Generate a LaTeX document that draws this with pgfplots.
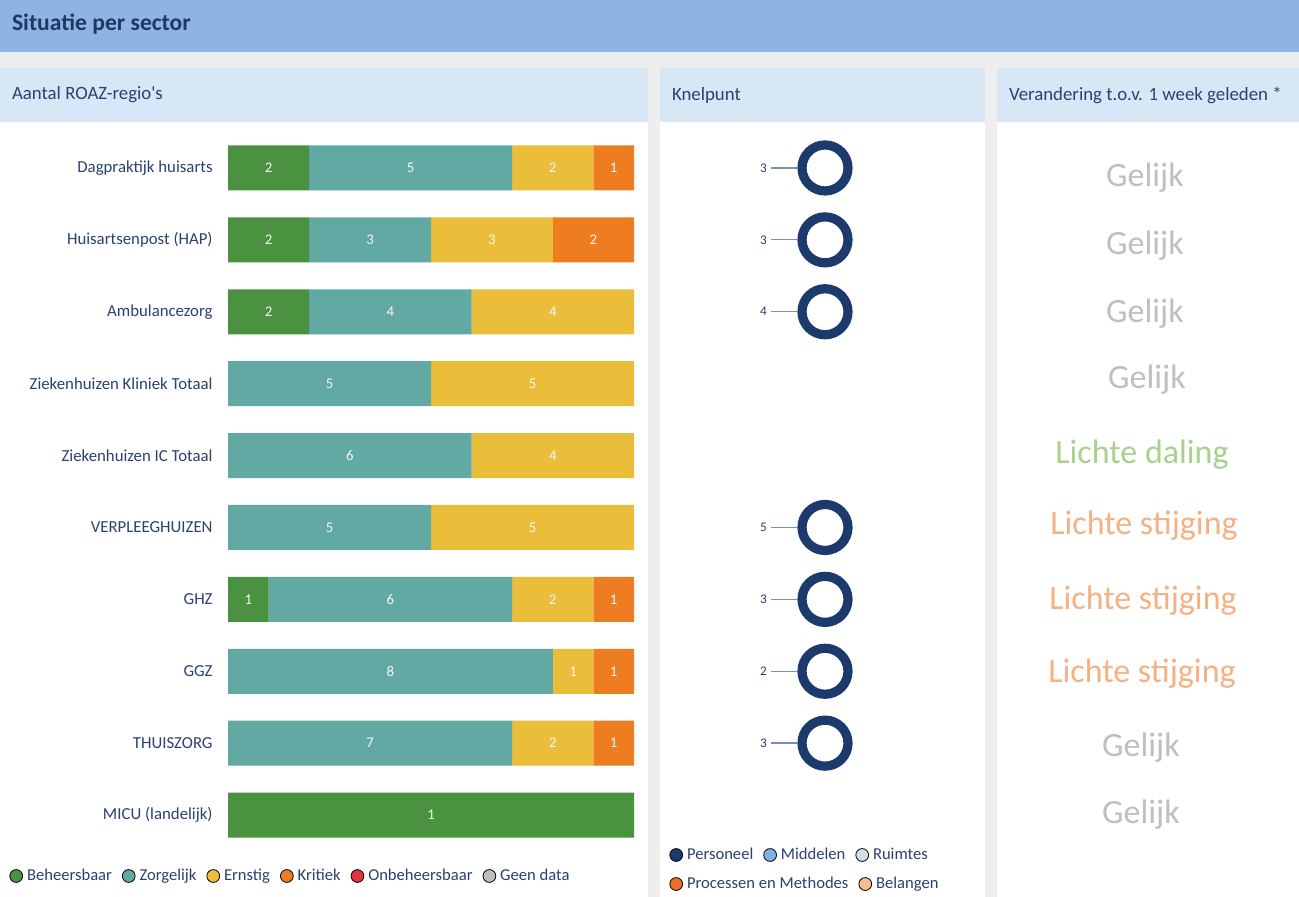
\documentclass[border=0pt]{standalone}
\usepackage{pgfplots}
\pgfplotsset{compat=1.18}
\usepackage{pgfplotstable}
\usepackage{fontspec}
\setmainfont{Carlito}
\definecolor{cHead}{HTML}{8DB4E2}
\definecolor{cSub}{HTML}{D8E7F5}
\definecolor{cBg}{HTML}{EEEEEE}
\definecolor{cNavy}{HTML}{1F3864}
\definecolor{cTxt}{HTML}{2B4170}
\definecolor{cG}{HTML}{4A9140}
\definecolor{cT}{HTML}{62A8A3}
\definecolor{cY}{HTML}{EABD3B}
\definecolor{cO}{HTML}{EE7D22}
\definecolor{cR}{HTML}{E0343F}
\definecolor{cGr}{HTML}{BDBDBD}
\definecolor{cDon}{HTML}{1C3A6C}
\definecolor{cLine}{HTML}{7A8EB4}
\definecolor{cMid}{HTML}{7FB3E3}
\definecolor{cRuim}{HTML}{D5DEE7}
\definecolor{cProc}{HTML}{EE7026}
\definecolor{cBel}{HTML}{F7BC93}
\definecolor{cGelijk}{HTML}{BFBFBF}
\definecolor{cDaling}{HTML}{A8D18D}
\definecolor{cStijg}{HTML}{F4B183}

% r = row, p = share of the bar (%), n = number of ROAZ regions
\pgfplotstableread{
r p n
1 20 2
2 20 2
3 20 2
4 0 0
5 0 0
6 0 0
7 10 1
8 0 0
9 0 0
10 100 1
}\beheersbaar
\pgfplotstableread{
r p n
1 50 5
2 30 3
3 40 4
4 50 5
5 60 6
6 50 5
7 60 6
8 80 8
9 70 7
10 0 0
}\zorgelijk
\pgfplotstableread{
r p n
1 20 2
2 30 3
3 40 4
4 50 5
5 40 4
6 50 5
7 20 2
8 10 1
9 20 2
10 0 0
}\ernstig
\pgfplotstableread{
r p n
1 10 1
2 20 2
3 0 0
4 0 0
5 0 0
6 0 0
7 10 1
8 10 1
9 10 1
10 0 0
}\kritiek
% Knelpunt: row, count (Personeel)
\pgfplotstableread{
x r c
0 1 3
0 2 3
0 3 4
0 6 5
0 7 3
0 8 2
0 9 3
}\knelpunt

\begin{document}
\begin{tikzpicture}
\begin{scope}[x=0.5pt,y=-0.5pt]
  \fill[cBg] (0,0) rectangle (1299,897);
  \fill[cHead] (0,0) rectangle (1299,52);
  \node[anchor=west, text=cNavy, font=\fontsize{11.8}{14}\selectfont\bfseries] at (5,24) {Situatie per sector};
  % panels
  \fill[white] (0,122) rectangle (648,897);
  \fill[white] (660,122) rectangle (985,897);
  \fill[white] (997,122) rectangle (1299,897);
  \fill[cSub] (0,68) rectangle (648,122);
  \fill[cSub] (660,68) rectangle (985,122);
  \fill[cSub] (997,68) rectangle (1299,122);
  \node[anchor=west, text=cTxt, font=\fontsize{9.4}{11}\selectfont] at (5,95) {Aantal ROAZ-regio\textquotesingle s};
  \node[anchor=west, text=cTxt, font=\fontsize{9.4}{11}\selectfont] at (665,95) {Knelpunt};
  \node[anchor=west, text=cTxt, font=\fontsize{9.4}{11}\selectfont] at (1002,95) {Verandering t.o.v. 1 week geleden *};
  % change texts
  \begin{scope}[every node/.style={font=\fontsize{17}{20}\selectfont, anchor=center}]
    \node[text=cGelijk] at (1145,178) {Gelijk};
    \node[text=cGelijk] at (1145,246) {Gelijk};
    \node[text=cGelijk] at (1145,314) {Gelijk};
    \node[text=cGelijk] at (1147,380) {Gelijk};
    \node[text=cDaling] at (1142,455) {Lichte daling};
    \node[text=cStijg] at (1144,526) {Lichte stijging};
    \node[text=cStijg] at (1143,601) {Lichte stijging};
    \node[text=cStijg] at (1142,674) {Lichte stijging};
    \node[text=cGelijk] at (1141,748) {Gelijk};
    \node[text=cGelijk] at (1141,815) {Gelijk};
  \end{scope}
\end{scope}

% ---- stacked bars ----
\begin{axis}[
  at={(114pt,-425.5pt)}, anchor=south west,
  scale only axis, width=203pt, height=359.5pt,
  xmin=0, xmax=100, ymin=0.5, ymax=10.5, y dir=reverse,
  xbar stacked, bar width=22.5pt,
  axis line style={draw=none}, xtick=\empty,
  ytick={1,...,10},
  yticklabels={Dagpraktijk huisarts, Huisartsenpost (HAP), Ambulancezorg, Ziekenhuizen Kliniek Totaal, Ziekenhuizen IC Totaal, VERPLEEGHUIZEN, GHZ, GGZ, THUISZORG, MICU (landelijk)},
  major tick length=0pt,
  yticklabel style={font=\fontsize{8.4}{10}\selectfont, text=cTxt, inner sep=0pt, xshift=-7.5pt},
  point meta=explicit symbolic,
  nodes near coords={\ifnum\pgfplotspointmeta>0 \pgfplotspointmeta\fi},
  every node near coord/.append style={anchor=center, font=\fontsize{7.4}{8}\selectfont, text=white!94!gray},
  clip=false,
]
\addplot[fill=cG, draw=none] table[x=p,y=r,meta=n]{\beheersbaar};
\addplot[fill=cT, draw=none] table[x=p,y=r,meta=n]{\zorgelijk};
\addplot[fill=cY, draw=none] table[x=p,y=r,meta=n]{\ernstig};
\addplot[fill=cO, draw=none] table[x=p,y=r,meta=n]{\kritiek};
\end{axis}

% ---- knelpunt donuts ----
\begin{axis}[
  at={(387.5pt,-425.5pt)}, anchor=south west,
  scale only axis, width=50pt, height=359.5pt,
  xmin=-1, xmax=1, ymin=0.5, ymax=10.5, y dir=reverse,
  hide axis, clip=false,
]
\addplot[only marks, mark=o, mark size=11.5pt, mark options={line width=4.6pt, draw=cDon},
  point meta=explicit symbolic,
  nodes near coords={\pgfplotspointmeta\hspace{2pt}\textcolor{cLine}{\rule[1.8pt]{13pt}{0.7pt}}},
  every node near coord/.append style={anchor=east, inner sep=0pt, xshift=-11.8pt, font=\fontsize{6.6}{7}\selectfont, text=cTxt}]
  table[x=x,y=r,meta=c]{\knelpunt};
\end{axis}

% ---- legends ----
\begin{axis}[
  at={(4.5pt,-438pt)}, anchor=west, scale only axis, width=1pt, height=1pt,
  xmin=0, xmax=1, ymin=0, ymax=1, hide axis,
  legend style={at={(0,0.5)}, anchor=west, draw=none, fill=none, inner sep=0pt,
    font=\fontsize{8.3}{10}\selectfont, text=cTxt, legend columns=-1,
    /tikz/every even column/.append style={column sep=3pt}},
  legend image code/.code={\fill (3.2pt,0pt) circle (3.2pt);},
]
\addlegendimage{fill=cG}\addlegendentry{Beheersbaar}
\addlegendimage{fill=cT}\addlegendentry{Zorgelijk}
\addlegendimage{fill=cY}\addlegendentry{Ernstig}
\addlegendimage{fill=cO}\addlegendentry{Kritiek}
\addlegendimage{fill=cR}\addlegendentry{Onbeheersbaar}
\addlegendimage{fill=cGr}\addlegendentry{Geen data}
\end{axis}

\begin{axis}[
  at={(334.5pt,-427.5pt)}, anchor=west, scale only axis, width=1pt, height=1pt,
  xmin=0, xmax=1, ymin=0, ymax=1, hide axis,
  legend style={at={(0,0.5)}, anchor=west, draw=none, fill=none, inner sep=0pt,
    font=\fontsize{8.3}{10}\selectfont, text=cTxt, legend columns=-1,
    /tikz/every even column/.append style={column sep=3pt}},
  legend image code/.code={\fill (3.2pt,0pt) circle (3.2pt);},
]
\addlegendimage{fill=cDon}\addlegendentry{Personeel}
\addlegendimage{fill=cMid}\addlegendentry{Middelen}
\addlegendimage{fill=cRuim}\addlegendentry{Ruimtes}
\end{axis}

\begin{axis}[
  at={(334.5pt,-442pt)}, anchor=west, scale only axis, width=1pt, height=1pt,
  xmin=0, xmax=1, ymin=0, ymax=1, hide axis,
  legend style={at={(0,0.5)}, anchor=west, draw=none, fill=none, inner sep=0pt,
    font=\fontsize{8.3}{10}\selectfont, text=cTxt, legend columns=-1,
    /tikz/every even column/.append style={column sep=3pt}},
  legend image code/.code={\fill (3.2pt,0pt) circle (3.2pt);},
]
\addlegendimage{fill=cProc}\addlegendentry{Processen en Methodes}
\addlegendimage{fill=cBel}\addlegendentry{Belangen}
\end{axis}

\pgfresetboundingbox
\useasboundingbox (0,0) rectangle (649.5pt,-448.5pt);
\end{tikzpicture}
\end{document}
